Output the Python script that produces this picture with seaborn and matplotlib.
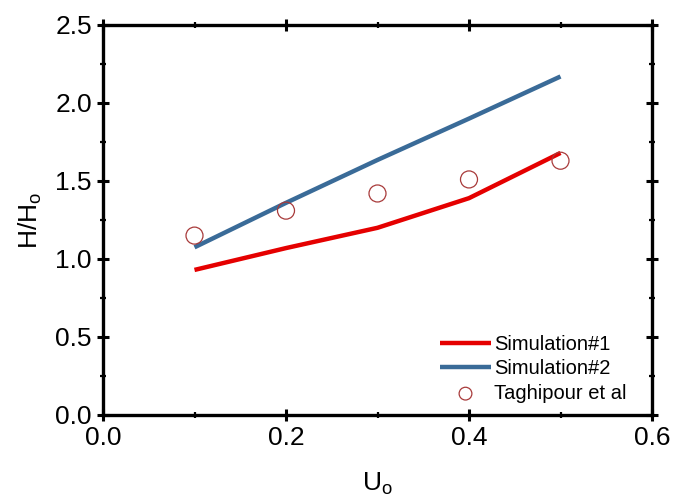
import matplotlib
matplotlib.use("Agg")
import matplotlib.pyplot as plt
from matplotlib.ticker import MultipleLocator
import seaborn as sns
import pandas as pd

# Data
u0 = [0.1, 0.2, 0.3, 0.4, 0.5]
sim1 = [0.93, 1.07, 1.20, 1.39, 1.68]
sim2 = [1.075, 1.36, 1.635, 1.90, 2.17]
exp_x = [0.1, 0.2, 0.3, 0.4, 0.5]
exp_y = [1.15, 1.31, 1.42, 1.51, 1.63]

sns.set_style("ticks")
plt.rcParams['font.family'] = ['Liberation Sans', 'DejaVu Sans']
plt.rcParams['mathtext.default'] = 'regular'
plt.rcParams['text.color'] = 'black'
plt.rcParams['axes.labelcolor'] = 'black'
plt.rcParams['xtick.color'] = 'black'
plt.rcParams['ytick.color'] = 'black'

df1 = pd.DataFrame({"U": u0, "H": sim1})
df2 = pd.DataFrame({"U": u0, "H": sim2})
dfe = pd.DataFrame({"U": exp_x, "H": exp_y})

fig = plt.figure(figsize=(6.73, 5.01), dpi=100)
ax = fig.add_axes([103/673, 1-415/501, (652-103)/673, (415-25)/501])

sns.lineplot(data=df1, x="U", y="H", ax=ax, color="#E50000", lw=3.2,
             label="Simulation#1", solid_capstyle="butt")
sns.lineplot(data=df2, x="U", y="H", ax=ax, color="#3A6B98", lw=3.2,
             label="Simulation#2", solid_capstyle="butt")
sns.scatterplot(data=dfe, x="U", y="H", ax=ax, marker="o", s=150,
                facecolor="none", edgecolor="#A83A3A", linewidth=0.9,
                label="Taghipour et al", zorder=5)

ax.set_xlim(0, 0.6)
ax.set_ylim(0, 2.5)
ax.xaxis.set_major_locator(MultipleLocator(0.2))
ax.xaxis.set_minor_locator(MultipleLocator(0.1))
ax.yaxis.set_major_locator(MultipleLocator(0.5))
ax.yaxis.set_minor_locator(MultipleLocator(0.25))
ax.set_xticklabels([f"{v:.1f}" for v in ax.get_xticks()])
ax.set_yticklabels([f"{v:.1f}" for v in ax.get_yticks()])

for s in ax.spines.values():
    s.set_visible(True)
    s.set_linewidth(2.4)
    s.set_color("black")

ax.tick_params(which="major", direction="inout", length=8, width=2.2,
               labelsize=19, top=True, right=True, labeltop=False, labelright=False, pad=4)
ax.tick_params(which="minor", direction="inout", length=5, width=1.6,
               top=True, right=True)

ax.set_xlabel("U$_o$", fontsize=19, labelpad=15)
ax.set_ylabel("H/H$_o$", fontsize=19, labelpad=8)

leg = ax.legend(loc="lower right", frameon=False, fontsize=14.5,
                handlelength=2.5, handletextpad=0.15, labelspacing=0.28,
                borderaxespad=0.2, bbox_to_anchor=(0.975, 0.0), markerscale=0.75)

fig.savefig("out.png", dpi=100)
